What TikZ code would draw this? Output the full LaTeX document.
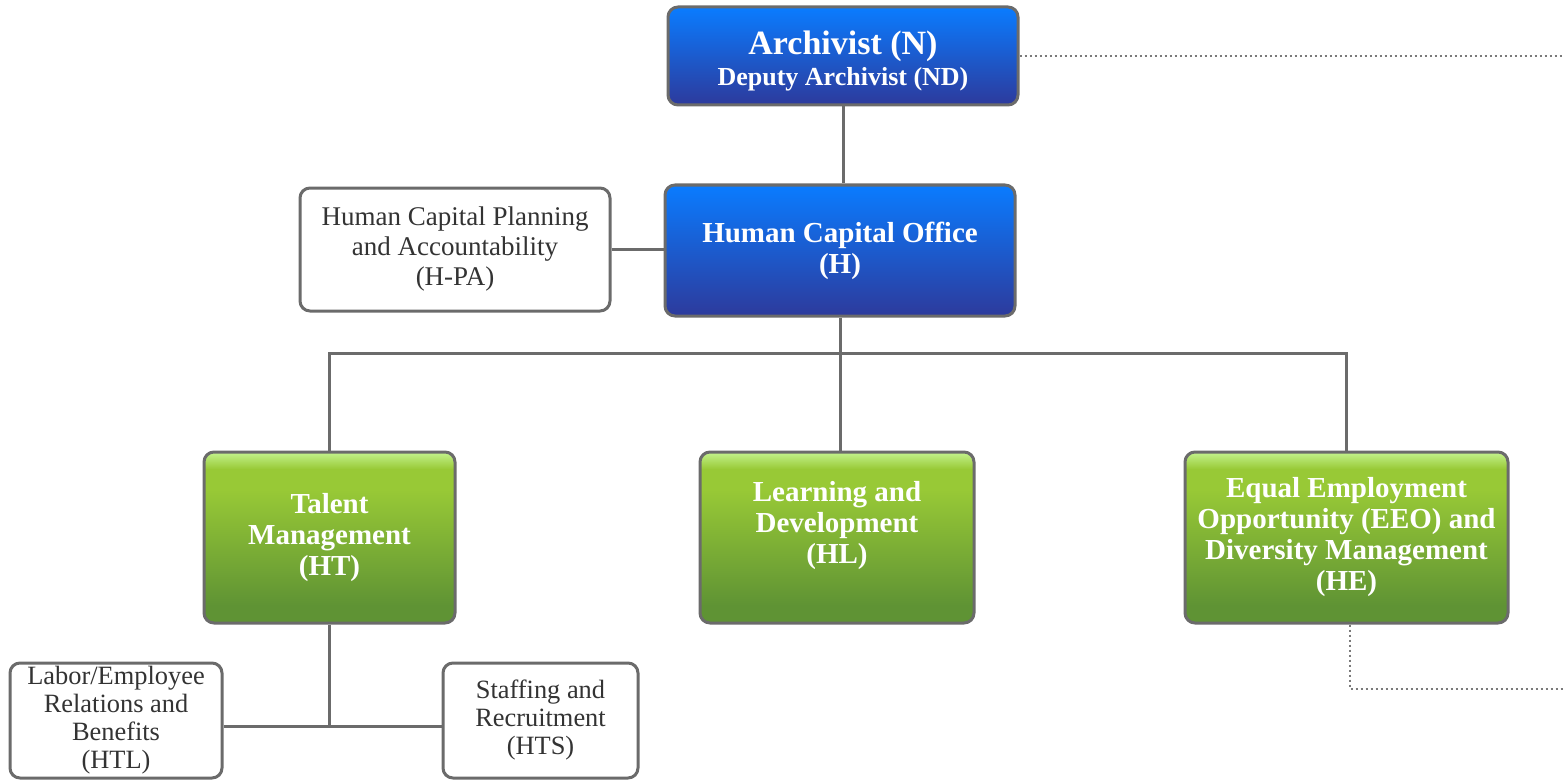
\documentclass[tikz,border=0pt]{standalone}
\usepackage{fontspec}
\setmainfont{Liberation Serif}
\usepackage{tikz}
\usetikzlibrary{shapes,positioning}
\definecolor{linegray}{HTML}{6B6B6B}
\definecolor{textgray}{HTML}{333333}
\definecolor{bluetop}{HTML}{0A7CFF}
\definecolor{bluebot}{HTML}{2D3A9C}
\definecolor{grntop}{HTML}{C4F38E}
\definecolor{grnmid}{HTML}{98C936}
\definecolor{grnbot}{HTML}{5F9334}
\pgfdeclareverticalshading{grnshade}{100bp}{color(0bp)=(grnbot); color(30bp)=(grnbot); color(64bp)=(grnmid); color(70bp)=(grnmid); color(75bp)=(grntop); color(100bp)=(grntop)}

\begin{document}
\begin{tikzpicture}[x=0.5pt,y=-0.5pt,line width=1.5pt]
  \tikzstyle{box}=[draw=linegray,line width=1.5pt,rounded corners=5pt,
                   align=center,inner sep=0pt]
  \tikzstyle{office}=[box,top color=bluetop,bottom color=bluebot,text=white,
                      font=\bfseries\fontsize{14.5}{15.5}\selectfont]
  \tikzstyle{branch}=[box,shading=grnshade,text=white,minimum height=85.5pt,
                      font=\bfseries\fontsize{14.5}{15.5}\selectfont]
  \tikzstyle{unit}=[box,fill=white,text=textgray]
  \tikzstyle{link}=[draw=linegray,line width=1.5pt]
  \tikzstyle{dotlink}=[draw=linegray!90,line width=1.2pt,dash pattern=on 1.2pt off 1.3pt]

  \useasboundingbox (0,0) rectangle (1564,781);

  \node[office,minimum width=175pt,minimum height=49pt] (N) at (843,56)
        {{\fontsize{17}{18}\selectfont\rule{0pt}{17pt}Archivist (N)}\\[0pt]
         {\fontsize{13}{14}\selectfont Deputy Archivist (ND)}};
  \node[office,minimum width=175pt,minimum height=65.5pt] (H) at (840,250.5)
        {Human Capital Office\\(H)};
  \node[unit,minimum width=155pt,minimum height=61.5pt,
        font=\fontsize{13.5}{15}\selectfont] (HPA) at (455,249.5)
        {Human Capital Planning\\and Accountability\\(H-PA)};

  \node[branch,minimum width=125.5pt] (HT) at (329.5,537.5)
        {Talent\\Management\\(HT)};
  \node[branch,minimum width=137pt] (HL) at (837,537.5)
        {Learning and\\Development\\(HL)\\~};
  \node[branch,minimum width=161.5pt] (HE) at (1346.5,537.5)
        {Equal Employment\\Opportunity (EEO) and\\Diversity Management\\(HE)};

  \node[unit,minimum width=106pt,minimum height=57.5pt,
        font=\fontsize{13.2}{14}\selectfont] (HTL) at (116,720.5)
        {Labor/Employee\\Relations and\\Benefits\\(HTL)};
  \node[unit,minimum width=97.5pt,minimum height=57.5pt,
        font=\fontsize{13.2}{14}\selectfont] (HTS) at (540.5,720.5)
        {Staffing and\\Recruitment\\(HTS)};

  \coordinate (bus) at (841,353);
  \coordinate (tbus) at (329,726);
  \coordinate (edgeA) at (1564,56);
  \coordinate (edgeB) at (1564,689);

  % solid lines
  \path[link] (N.south) -- (N.south |- H.north);
  \path[link] (HPA.east) -- (HPA.east -| H.west);
  \path[link] (H.south) -- (H.south |- HL.north);
  \path[link] (HT.north) -- (HT.north |- bus) -- (HE.north |- bus) -- (HE.north);
  \path[link] (HT.south) -- (HT.south |- tbus);
  \path[link] (HTL.east |- tbus) -- (HTS.west |- tbus);

  % dotted lines
  \path[dotlink] (N.east) -- (edgeA);
  \path[dotlink] ([xshift=1.75pt]HE.south) |- (edgeB);
\end{tikzpicture}
\end{document}
